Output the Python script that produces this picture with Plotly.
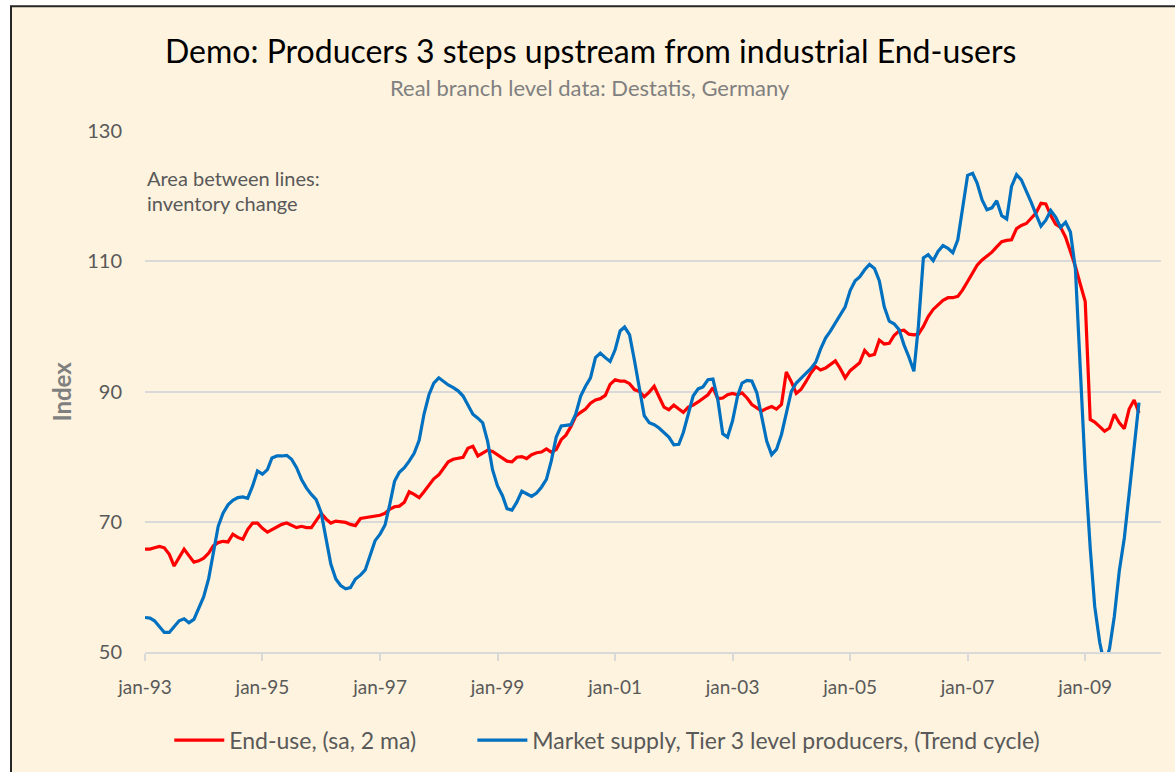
import pandas as pd
import plotly.graph_objects as go

# ---------------- data (monthly, jan-93 .. dec-09) ----------------
months = pd.date_range("1993-01-01", periods=204, freq="MS")

end_use = [
    65.8, 65.8, 66.0, 66.2, 66.0, 65.0, 63.2, 64.6, 65.8, 64.8, 63.8, 64.0,
    64.4, 65.2, 66.3, 66.8, 67.0, 66.9, 68.1, 67.6, 67.3, 68.8, 69.8, 69.8,
    69.0, 68.4, 68.8, 69.2, 69.6, 69.8, 69.5, 69.1, 69.3, 69.1, 69.1, 70.2,
    71.3, 70.4, 69.8, 70.1, 70.0, 69.9, 69.6, 69.4, 70.5, 70.6, 70.8, 70.9,
    71.0, 71.3, 71.9, 72.3, 72.4, 73.0, 74.6, 74.2, 73.7, 74.6, 75.6, 76.6,
    77.2, 78.3, 79.2, 79.6, 79.8, 79.9, 81.3, 81.6, 80.1, 80.6, 81.0, 80.8,
    80.3, 79.8, 79.3, 79.2, 79.9, 80.0, 79.7, 80.3, 80.6, 80.7, 81.2, 80.7,
    81.1, 82.6, 83.3, 84.6, 86.2, 86.8, 87.3, 88.2, 88.7, 88.9, 89.4, 91.1,
    91.8, 91.6, 91.6, 91.2, 90.3, 90.0, 89.2, 89.9, 90.8, 89.2, 87.6, 87.2,
    87.9, 87.3, 86.8, 87.6, 87.9, 88.4, 89.0, 89.5, 90.6, 88.9, 89.0, 89.5,
    89.7, 89.5, 89.8, 89.0, 88.0, 87.5, 87.0, 87.4, 87.7, 87.3, 88.0, 93.0,
    91.5, 89.7, 90.3, 91.5, 92.8, 93.8, 93.3, 93.6, 94.2, 94.7, 93.5, 92.1,
    93.2, 93.8, 94.4, 96.3, 95.5, 95.7, 97.9, 97.3, 97.4, 98.6, 99.3, 99.4,
    98.8, 98.7, 98.8, 100.0, 101.5, 102.6, 103.3, 104.0, 104.4, 104.4, 104.6, 105.6,
    106.9, 108.3, 109.4, 110.2, 110.8, 111.4, 112.2, 113.0, 113.2, 113.3, 115.0, 115.5,
    115.8, 116.7, 117.4, 118.9, 118.8, 117.0, 115.7, 115.2, 113.7, 111.5, 109.2, 106.5,
    103.8, 85.7, 85.3, 84.6, 83.9, 84.4, 86.5, 85.2, 84.3, 87.3, 88.7, 86.7,
]

market_supply = [
    55.3, 55.2, 54.8, 53.8, 53.0, 53.0, 53.8, 54.8, 55.1, 54.5, 55.0, 56.8,
    58.5, 61.3, 65.2, 69.3, 71.3, 72.6, 73.3, 73.7, 73.8, 73.6, 75.5, 77.8,
    77.3, 78.0, 79.8, 80.1, 80.1, 80.2, 79.6, 78.3, 76.5, 75.2, 74.2, 73.4,
    71.4, 67.5, 63.5, 61.2, 60.2, 59.7, 59.9, 61.2, 61.8, 62.6, 65.0, 67.1,
    68.1, 69.5, 72.5, 76.2, 77.6, 78.3, 79.3, 80.5, 82.5, 86.5, 89.5, 91.3,
    92.1, 91.5, 91.0, 90.6, 90.1, 89.3, 88.0, 86.5, 85.9, 85.2, 82.3, 78.0,
    75.5, 74.0, 72.0, 71.8, 73.0, 74.7, 74.3, 73.9, 74.4, 75.3, 76.5, 79.3,
    83.0, 84.7, 84.8, 84.9, 86.5, 89.3, 90.8, 92.1, 95.2, 95.9, 95.2, 94.6,
    96.4, 99.3, 99.9, 98.7, 94.8, 90.3, 86.3, 85.2, 84.9, 84.4, 83.7, 83.0,
    81.8, 81.9, 83.7, 86.5, 89.3, 90.4, 90.7, 91.8, 91.9, 88.8, 83.5, 83.0,
    85.5, 89.3, 91.3, 91.7, 91.6, 89.8, 86.2, 82.4, 80.3, 81.1, 83.4, 86.7,
    90.0, 91.3, 92.1, 92.8, 93.5, 94.5, 96.5, 98.2, 99.3, 100.5, 101.7, 103.0,
    105.5, 107.0, 107.6, 108.7, 109.5, 108.9, 107.0, 103.0, 100.8, 100.4, 99.5, 97.2,
    95.3, 93.1, 100.0, 110.5, 111.0, 110.1, 111.5, 112.4, 112.0, 111.3, 113.3, 118.0,
    123.2, 123.5, 122.0, 119.4, 117.9, 118.2, 119.3, 117.0, 116.5, 121.5, 123.3, 122.5,
    120.8, 119.0, 117.2, 115.4, 116.3, 117.8, 116.8, 115.2, 116.0, 114.5, 108.8, 94.0,
    78.0, 66.0, 57.0, 51.5, 48.0, 50.5, 55.5, 62.5, 67.5, 74.3, 81.8, 88.3,
]

tick_dates = ["1993-01-01", "1995-01-01", "1997-01-01", "1999-01-01", "2001-01-01",
              "2003-01-01", "2005-01-01", "2007-01-01", "2009-01-01"]
tick_labels = ["jan-93", "jan-95", "jan-97", "jan-99", "jan-01",
               "jan-03", "jan-05", "jan-07", "jan-09"]

series_names = ["End-use, (sa, 2 ma)",
                "Market supply, Tier 3 level producers, (Trend cycle)"]

# ---------------- figure ----------------
FONT = "Lato"
GREY = "#595959"
CREAM = "#FEF3DE"

fig = go.Figure()
fig.add_trace(go.Scatter(x=months, y=end_use, mode="lines", name=series_names[0],
                         line=dict(color="#FF0000", width=3.2), legend="legend"))
fig.add_trace(go.Scatter(x=months, y=market_supply, mode="lines", name=series_names[1],
                         line=dict(color="#0070C0", width=3.2), legend="legend2"))

legend_common = dict(orientation="h", xanchor="left", yanchor="middle",
                     font=dict(size=23, color=GREY, family=FONT),
                     bgcolor="rgba(0,0,0,0)", itemwidth=50)

fig.update_layout(
    width=1175, height=772,
    margin=dict(l=145, r=14, t=131, b=119),
    paper_bgcolor="white",
    plot_bgcolor=CREAM,
    font=dict(family=FONT, color=GREY),
    showlegend=True,
    legend=dict(x=0.0239, y=-0.167, **legend_common),
    legend2=dict(x=0.3222, y=-0.167, **legend_common),
    xaxis=dict(type="date", range=["1993-01-01", "2010-04-17"],
               tickvals=tick_dates, ticktext=tick_labels,
               showgrid=False, zeroline=False,
               showline=True, linecolor="#D9D9D9", linewidth=1.5,
               ticks="outside", ticklen=7, tickwidth=1.5, tickcolor="#D9D9D9",
               tickfont=dict(size=19, color=GREY, family=FONT),
               ticklabelstandoff=10),
    yaxis=dict(range=[50, 130], tick0=50, dtick=20,
               showgrid=True, gridcolor="#D9D9D9", gridwidth=1.5,
               showline=False, zeroline=False, ticks="",
               tickfont=dict(size=20, color=GREY, family=FONT),
               ticklabelstandoff=22),
    shapes=[dict(type="rect", xref="paper", yref="paper",
                 x0=-0.13189, x1=1.03, y0=-0.27, y1=1.23946,
                 line=dict(color="#262626", width=2), fillcolor=CREAM, layer="below")],
    annotations=[
        dict(text="Demo: Producers 3 steps upstream from industrial End-users",
             xref="paper", yref="paper", x=0.438, y=1.1552, xanchor="center", yanchor="middle",
             showarrow=False, font=dict(size=32, color="#000000", family=FONT)),
        dict(text="Real branch level data: Destatis, Germany",
             xref="paper", yref="paper", x=0.438, y=1.0843, xanchor="center", yanchor="middle",
             showarrow=False, font=dict(size=22, color="#808080", family=FONT)),
        dict(text="Area between lines:", xref="paper", yref="paper", x=0.0, y=0.9100,
             xanchor="left", yanchor="middle", showarrow=False,
             font=dict(size=20, color=GREY, family=FONT)),
        dict(text="inventory change", xref="paper", yref="paper", x=0.0, y=0.8621,
             xanchor="left", yanchor="middle", showarrow=False,
             font=dict(size=20, color=GREY, family=FONT)),
        dict(text="<b>Index</b>", xref="paper", yref="paper", x=-0.0817, y=0.5,
             xanchor="center", yanchor="middle", textangle=-90, showarrow=False,
             font=dict(size=24, color="#7F7F7F", family=FONT)),
    ],
)

fig.write_html("out.html", config={"displayModeBar": False},
               post_script="document.body.style.margin='0px';")
